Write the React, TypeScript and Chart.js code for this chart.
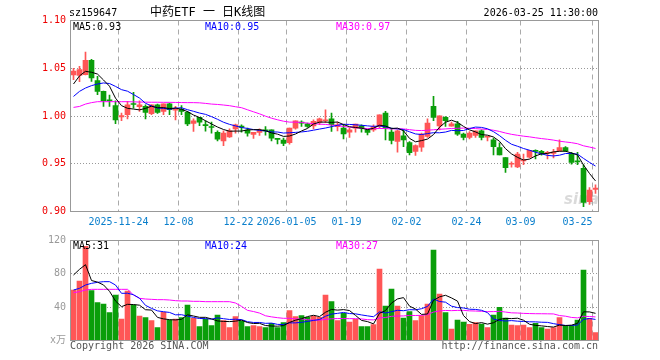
import React, { useEffect, useRef } from "react";
import { Chart, registerables } from "chart.js";
Chart.register(...registerables);

// ---------------- DATA ----------------
const dates = [
  "2025-11-12","2025-11-13","2025-11-14","2025-11-17","2025-11-18","2025-11-19","2025-11-20","2025-11-21","2025-11-24","2025-11-25","2025-11-26","2025-11-27","2025-11-28",
  "2025-12-01","2025-12-02","2025-12-03","2025-12-04","2025-12-05","2025-12-08","2025-12-09","2025-12-10","2025-12-11","2025-12-12","2025-12-15","2025-12-16","2025-12-17","2025-12-18","2025-12-19","2025-12-22","2025-12-23","2025-12-24","2025-12-25","2025-12-26","2025-12-29","2025-12-30","2025-12-31",
  "2026-01-05","2026-01-06","2026-01-07","2026-01-08","2026-01-09","2026-01-12","2026-01-13","2026-01-14","2026-01-15","2026-01-16","2026-01-19","2026-01-20","2026-01-21","2026-01-22","2026-01-23","2026-01-26","2026-01-27","2026-01-28","2026-01-29","2026-01-30",
  "2026-02-02","2026-02-03","2026-02-04","2026-02-05","2026-02-06","2026-02-09","2026-02-10","2026-02-11","2026-02-12","2026-02-13","2026-02-24","2026-02-25","2026-02-26","2026-02-27",
  "2026-03-02","2026-03-03","2026-03-04","2026-03-05","2026-03-06","2026-03-09","2026-03-10","2026-03-11","2026-03-12","2026-03-13","2026-03-16","2026-03-17","2026-03-18","2026-03-19","2026-03-20","2026-03-23","2026-03-24","2026-03-25",
];

const opens = [
  1.043,1.0426,1.0433,1.0584,1.037,1.0258,1.017,1.0108,0.999,1.0013,
  1.0128,1.0097,1.010,1.0024,1.0118,1.0048,1.0128,1.006,1.007,1.0038,
  0.9922,0.9985,0.9905,0.989,0.983,0.974,0.9782,0.9866,0.9894,0.9852,
  0.9806,0.9827,0.9852,0.9855,0.976,0.9747,0.9722,0.9873,0.9936,0.9918,
  0.9897,0.9936,0.995,0.997,0.9887,0.9873,0.983,0.9873,0.9897,0.9855,
  0.9855,0.989,1.003,0.9831,0.9733,0.9792,0.9722,0.9628,0.9673,0.9785,
  1.010,0.9897,0.9985,0.9894,0.9918,0.981,0.9775,0.9796,0.9845,0.9778,
  0.975,0.967,0.9565,0.9495,0.9467,0.953,0.957,0.9638,0.963,0.961,
  0.9607,0.9635,0.967,0.960,0.9525,0.9453,0.9103,0.923,
];
const highs = [
  1.050,1.052,1.067,1.0594,1.0416,1.026,1.022,1.016,1.003,1.0153,
  1.0248,1.016,1.0118,1.0118,1.0125,1.0128,1.0135,1.010,1.0108,1.0048,
  0.997,0.9985,0.995,0.9936,0.9845,0.9845,0.9866,0.9915,0.9908,0.9873,
  0.983,0.9866,0.989,0.9855,0.976,0.9768,0.9873,0.995,0.995,0.9925,
  0.996,0.9978,1.0065,1.003,0.9936,0.9908,0.9873,0.9915,0.9908,0.9855,
  0.9908,1.0013,1.0048,0.9873,0.9855,0.9855,0.9733,0.9698,0.982,0.997,
  1.0205,1.0003,0.9995,0.9936,0.9943,0.982,0.9838,0.9845,0.9855,0.9782,
  0.9768,0.972,0.9565,0.952,0.962,0.960,0.964,0.9645,0.964,0.963,
  0.965,0.975,0.968,0.962,0.962,0.949,0.925,0.928,
];
const lows = [
  1.038,1.036,1.043,1.0363,1.0223,1.010,1.010,0.992,0.995,0.997,
  1.0083,1.0048,0.997,1.0013,1.0027,1.0013,1.0013,0.996,1.0013,0.990,
  0.9838,0.990,0.984,0.982,0.974,0.969,0.9775,0.982,0.983,0.9789,
  0.9765,0.9796,0.980,0.974,0.9708,0.969,0.9705,0.9862,0.989,0.988,
  0.9866,0.9908,0.993,0.9838,0.9845,0.976,0.9775,0.983,0.983,0.9803,
  0.9838,0.9873,0.975,0.9708,0.962,0.968,0.9593,0.9586,0.9628,0.9775,
  0.995,0.9855,0.989,0.9894,0.9796,0.975,0.976,0.9775,0.975,0.974,
  0.9593,0.9593,0.941,0.9463,0.946,0.949,0.956,0.955,0.959,0.955,
  0.956,0.9635,0.9628,0.9495,0.949,0.905,0.9075,0.919,
];
const closes = [
  1.047,1.0485,1.0584,1.0398,1.0258,1.016,1.016,0.996,1.0005,1.0118,
  1.012,1.0118,1.0038,1.0118,1.0038,1.0128,1.0066,1.007,1.0048,0.9918,
  0.995,0.9936,0.990,0.988,0.9758,0.982,0.9845,0.9908,0.988,0.982,
  0.983,0.9852,0.9845,0.9768,0.9755,0.9712,0.9873,0.995,0.9925,0.989,
  0.9943,0.997,0.9955,0.9908,0.9908,0.9813,0.9855,0.9915,0.9873,0.9827,
  0.989,1.0013,0.9873,0.9745,0.9845,0.975,0.9617,0.969,0.981,0.9925,
  0.9985,1.0003,0.995,0.9918,0.981,0.9775,0.982,0.9845,0.9775,0.9782,
  0.968,0.9593,0.946,0.9502,0.960,0.954,0.964,0.963,0.961,0.962,
  0.9622,0.967,0.9635,0.9515,0.952,0.9096,0.9225,0.9245,
];
// volume, in 万
const volumes = [
  60.6,71.4,113,59.8,45.4,43.8,33.4,54.6,25.8,59.4,
  42.6,29.4,27.4,23.8,15.4,33.8,24.6,25.8,27.4,42.6,
  26.6,16.6,25.8,17.8,30.6,23.8,15.4,28.6,23.4,16.6,
  17.8,16.6,15.4,20.6,15.4,21.4,35.8,28.6,29.8,27.8,
  29.4,27.8,54.6,46.6,23.8,32.6,22.2,25.4,16.6,16.6,
  19,85.8,41.4,61.8,41.4,27,34.6,23.8,29.8,43.8,
  108.6,55.8,33.4,13.8,24.6,22.2,19.4,21.4,19.8,15.4,
  30.6,39.8,27,18.6,17.8,18.6,15.4,20.6,15.4,13.8,
  15.4,27.4,17.8,17.8,24.6,84.6,26.6,9.4,
];

// Moving-average values before a full window exists
const ma5Lead = [1.0335, 1.042, 1.0468, 1.0458];
const ma10Lead = [1.0205, 1.0258, 1.0293, 1.0318, 1.0335, 1.0346, 1.034, 1.031, 1.0276];
const ma30Lead = [
  1.009, 1.010, 1.0125, 1.014, 1.015, 1.015, 1.015, 1.015, 1.015, 1.015,
  1.0148, 1.0146, 1.0145, 1.0144, 1.0144, 1.0143, 1.0143, 1.0142, 1.0141, 1.014,
  1.014, 1.0138, 1.0132, 1.0125, 1.0121, 1.0115, 1.0108, 1.0097, 1.0087,
];
const volMa5Lead = [78.6, 85.4, 91, 72];
const volMa10Lead = [60.6, 62.6, 66.6, 68.6, 69.8, 70.6, 70.6, 66.6, 56.6];
const volMa30Lead = [
  57.4, 58.6, 60.6, 61.4, 61.4, 61.4, 61.4, 61.4, 61.4, 61.4,
  54.6, 50.6, 49.8, 49.4, 49, 49, 48.6, 47.8, 47.4, 47.4,
  47, 47, 46.6, 46.6, 46.6, 46.6, 46.6, 45, 41,
];

const axisDates = ["2025-11-24","2025-12-08","2025-12-22","2026-01-05","2026-01-19","2026-02-02","2026-02-24","2026-03-09","2026-03-25"];
const axisLabels = ["2025-11-24","12-08","12-22","2026-01-05","01-19","02-02","02-24","03-09","03-25"];

const priceMaLabels = ["MA5:0.93", "MA10:0.95", "MA30:0.97"];
const volumeMaLabels = ["MA5:31", "MA10:24", "MA30:27"];
const symbol = "sz159647";
const title = "中药ETF 一 日K线图";
const stamp = "2026-03-25 11:30:00";
const copyright = "Copyright 2026 SINA.COM";
const site = "http://finance.sina.com.cn";
const volumeUnit = "x万";

// ---------------- STYLE ----------------
const RED = "#ff5656";
const GREEN = "#0a9e0a";
const MA_COLORS = ["#000000", "#0000ff", "#ff00ff"];
const MONO = "'DejaVu Sans Mono', 'Noto Sans CJK SC', monospace";
const LEGEND_X = [73, 205, 336];

function movingAverage(values: number[], n: number, lead: number[]): number[] {
  return values.map((_, i) => {
    if (i < n - 1) return lead[i];
    let s = 0;
    for (let k = i - n + 1; k <= i; k++) s += values[k];
    return s / n;
  });
}

const candleColors = closes.map((c, i) => (c >= opens[i] ? RED : GREEN));

function drawVerticalDashes(chart: any) {
  const { ctx, chartArea: a, scales } = chart;
  const x = scales.x;
  const half = (a.right - a.left) / dates.length / 2;
  ctx.save();
  ctx.strokeStyle = "#aaaaaa";
  ctx.lineWidth = 1;
  ctx.setLineDash([5, 4]);
  axisDates.forEach((d) => {
    const i = dates.indexOf(d);
    const px = x.getPixelForValue(i) - half;
    ctx.beginPath();
    ctx.moveTo(px, a.top);
    ctx.lineTo(px, a.bottom);
    ctx.stroke();
  });
  ctx.restore();
}

function drawBox(chart: any) {
  const { ctx, chartArea: a } = chart;
  ctx.save();
  ctx.strokeStyle = "#999999";
  ctx.lineWidth = 1;
  ctx.setLineDash([]);
  ctx.strokeRect(a.left, a.top, a.right - a.left, a.bottom - a.top);
  ctx.restore();
}

function drawLegends(chart: any, labels: string[], y: number) {
  const { ctx } = chart;
  ctx.save();
  ctx.font = `10px ${MONO}`;
  ctx.textBaseline = "middle";
  ctx.textAlign = "left";
  labels.forEach((t, k) => {
    ctx.fillStyle = MA_COLORS[k];
    ctx.fillText(t, LEGEND_X[k], y);
  });
  ctx.restore();
}

const pricePlugin = {
  id: "priceDecor",
  beforeDatasetsDraw(chart: any) {
    const { ctx } = chart;
    // faint sina watermark
    ctx.save();
    ctx.font = "italic bold 15px 'DejaVu Sans', sans-serif";
    ctx.fillStyle = "rgba(150,150,150,0.35)";
    ctx.textBaseline = "alphabetic";
    ctx.fillText("sina", 564, 204);
    ctx.restore();
    drawVerticalDashes(chart);
  },
  afterDraw(chart: any) {
    const { ctx, chartArea: a, scales } = chart;
    drawBox(chart);
    drawLegends(chart, priceMaLabels, 27);
    ctx.save();
    ctx.textBaseline = "middle";
    ctx.fillStyle = "#000";
    ctx.font = `10px ${MONO}`;
    ctx.textAlign = "left";
    ctx.fillText(symbol, 69, 13);
    ctx.font = `12px ${MONO}`;
    ctx.fillText(title, 150, 13);
    ctx.font = `10px ${MONO}`;
    ctx.textAlign = "right";
    ctx.fillText(stamp, 598, 13);
    // date labels
    const half = (a.right - a.left) / dates.length / 2;
    ctx.fillStyle = "#0a7fcc";
    axisDates.forEach((d, k) => {
      const i = dates.indexOf(d);
      const px = scales.x.getPixelForValue(i) - half;
      const w = ctx.measureText(axisLabels[k]).width;
      if (px + w / 2 > a.right) {
        ctx.textAlign = "right";
      } else {
        ctx.textAlign = "center";
      }
      ctx.fillText(axisLabels[k], px, a.bottom + 10.5);
    });
    ctx.restore();
  },
};

const volumePlugin = {
  id: "volumeDecor",
  beforeDatasetsDraw(chart: any) {
    drawVerticalDashes(chart);
  },
  afterDraw(chart: any) {
    const { ctx, chartArea: a } = chart;
    drawBox(chart);
    drawLegends(chart, volumeMaLabels, a.top + 5.5);
    ctx.save();
    ctx.textBaseline = "middle";
    ctx.font = `10px ${MONO}`;
    ctx.fillStyle = "#555";
    ctx.textAlign = "left";
    ctx.fillText(copyright, 70, a.bottom + 6);
    ctx.textAlign = "right";
    ctx.fillText(site, 598, a.bottom + 6);
    ctx.restore();
  },
};

function lineDs(label: string, data: number[], color: string) {
  return {
    type: "line" as const,
    label,
    data,
    borderColor: color,
    backgroundColor: color,
    borderWidth: 1,
    pointRadius: 0,
    tension: 0,
    fill: false,
    order: 0,
  };
}

function yAxis(min: number, max: number, step: number, color: string, fmt: (v: number) => string) {
  return {
    type: "linear" as const,
    min,
    max,
    afterFit: (s: any) => {
      s.width = 70.5;
    },
    ticks: {
      stepSize: step,
      color,
      font: { family: MONO, size: 10 },
      padding: 4.5,
      callback: (v: any) => fmt(Number(v)),
    },
    grid: {
      drawTicks: false,
      lineWidth: 1,
      color: (c: any) =>
        c.tick && (Math.abs(c.tick.value - min) < 1e-9 || Math.abs(c.tick.value - max) < 1e-9)
          ? "rgba(0,0,0,0)"
          : "#999999",
    },
    border: { display: false, dash: [1, 2] },
  };
}

export default function App() {
  const priceRef = useRef<HTMLCanvasElement | null>(null);
  const volRef = useRef<HTMLCanvasElement | null>(null);

  useEffect(() => {
    const ma5 = movingAverage(closes, 5, ma5Lead);
    const ma10 = movingAverage(closes, 10, ma10Lead);
    const ma30 = movingAverage(closes, 30, ma30Lead);
    const vma5 = movingAverage(volumes, 5, volMa5Lead);
    const vma10 = movingAverage(volumes, 10, volMa10Lead);
    const vma30 = movingAverage(volumes, 30, volMa30Lead);

    const common = {
      responsive: false,
      animation: false as const,
      devicePixelRatio: 1,
      events: [] as any[],
      plugins: { legend: { display: false }, tooltip: { enabled: false } },
    };

    const priceChart = new Chart(priceRef.current as HTMLCanvasElement, {
      type: "bar",
      data: {
        labels: dates,
        datasets: [
          lineDs("MA5", ma5, MA_COLORS[0]),
          lineDs("MA10", ma10, MA_COLORS[1]),
          lineDs("MA30", ma30, MA_COLORS[2]),
          {
            type: "bar",
            label: "body",
            data: opens.map((o, i) => [o, closes[i]]) as any,
            backgroundColor: candleColors,
            barThickness: 5,
            grouped: false,
            minBarLength: 1,
            order: 1,
          } as any,
          {
            type: "bar",
            label: "wick",
            data: lows.map((l, i) => [l, highs[i]]) as any,
            backgroundColor: candleColors,
            barThickness: 1,
            grouped: false,
            order: 2,
          } as any,
        ],
      },
      options: {
        ...common,
        layout: { padding: { left: 0, right: 61.5, top: 20.5, bottom: 23.5 } },
        scales: {
          x: { type: "category", offset: true, display: false },
          y: yAxis(0.9, 1.1, 0.05, "#ee0000", (v) => v.toFixed(2)),
        },
      } as any,
      plugins: [pricePlugin],
    });

    const volChart = new Chart(volRef.current as HTMLCanvasElement, {
      type: "bar",
      data: {
        labels: dates,
        datasets: [
          lineDs("MA5", vma5, MA_COLORS[0]),
          lineDs("MA10", vma10, MA_COLORS[1]),
          lineDs("MA30", vma30, MA_COLORS[2]),
          {
            type: "bar",
            label: "volume",
            data: volumes,
            backgroundColor: candleColors,
            barThickness: 5,
            grouped: false,
            order: 1,
          } as any,
        ],
      },
      options: {
        ...common,
        layout: { padding: { left: 0, right: 61.5, top: 12.5, bottom: 19.5 } },
        scales: {
          x: { type: "category", offset: true, display: false },
          y: yAxis(0, 120, 40, "#999999", (v) => (v === 0 ? volumeUnit : String(v))),
        },
      } as any,
      plugins: [volumePlugin],
    });

    return () => {
      priceChart.destroy();
      volChart.destroy();
    };
  }, []);

  return (
    <div style={{ position: "absolute", left: 0, top: 0, width: 660, height: 360, background: "#fff" }}>
      <canvas
        ref={priceRef}
        width={660}
        height={235}
        style={{ position: "absolute", left: 0, top: 0, width: 660, height: 235 }}
      />
      <canvas
        ref={volRef}
        width={660}
        height={132}
        style={{ position: "absolute", left: 0, top: 228, width: 660, height: 132 }}
      />
    </div>
  );
}
